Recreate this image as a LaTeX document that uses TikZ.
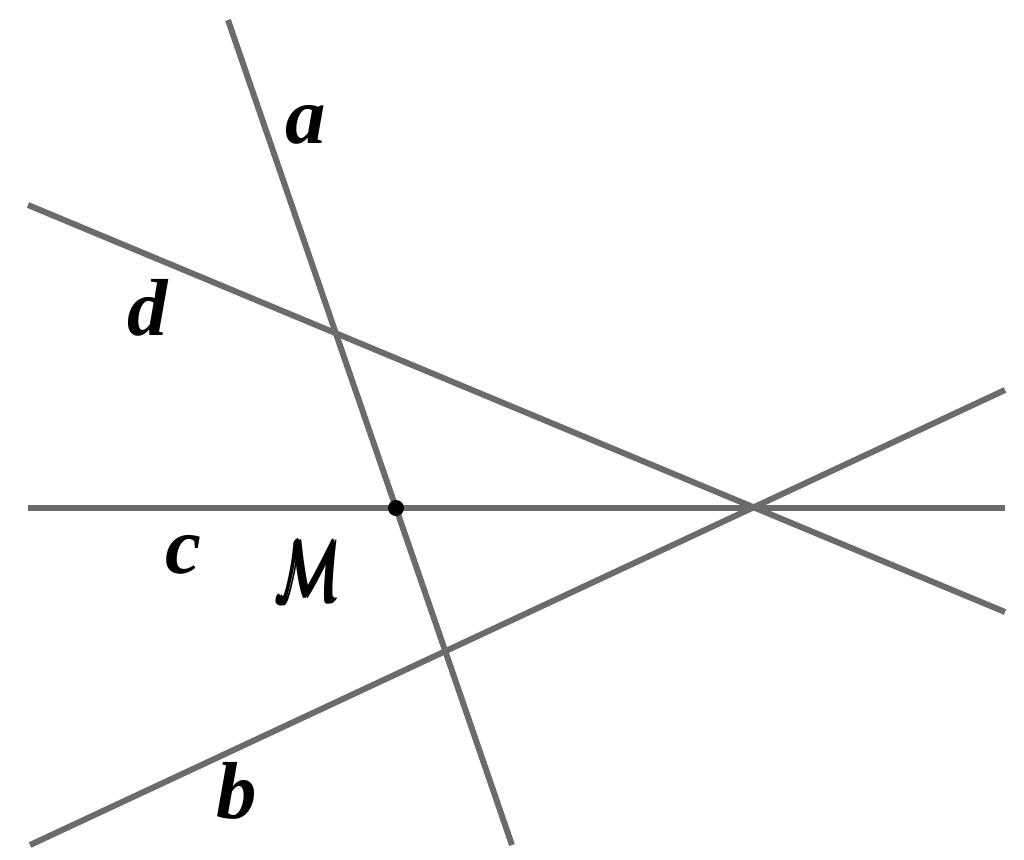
\RequirePackage{fix-cm}
\documentclass[tikz,border=0pt]{standalone}
\usepackage{amsmath}
\usepackage{fontspec}
\setmainfont{Liberation Serif}
\tikzset{
  line/.style={draw=black!58,line width=3.4pt},
  lbl/.style={font=\fontsize{46}{46}\selectfont\bfseries\itshape,inner sep=0pt}
}
% overprinted calligraphic M, to make it heavier
\newcommand{\heavyM}{%
  \rlap{$\mathcal{M}$}\rlap{\kern1.3pt$\mathcal{M}$}\rlap{\kern2.6pt$\mathcal{M}$}%
  \rlap{\kern1.3pt\raisebox{0.9pt}{$\mathcal{M}$}}\rlap{\kern3.9pt$\mathcal{M}$}%
  \kern3.9pt\phantom{$\mathcal{M}$}}
\begin{document}
\begin{tikzpicture}[x=0.02cm,y=-0.02cm]
\useasboundingbox (0,0) rectangle (1024,859);

% End points of the four lines
\coordinate (A1) at (228,20);
\coordinate (A2) at (512,845);
\coordinate (D1) at (28,205);
\coordinate (D2) at (1005,612);
\coordinate (C1) at (28,508);
\coordinate (C2) at (1005,508);
\coordinate (B1) at (30,845);
\coordinate (B2) at (1005,390);

% Draw the lines
\draw[line] (A1) -- (A2);
\draw[line] (D1) -- (D2);
\draw[line] (C1) -- (C2);
\draw[line] (B1) -- (B2);

% Point M on line c
\coordinate (M) at (intersection of A1--A2 and C1--C2);
\fill (M) circle (0.16cm);

% Labels
\node[lbl] (la) at (306,125) {a};
\node[lbl] (ld) at (148,308) {d};
\node[lbl] (lc) at (183,555) {c};
\node[lbl] (lb) at (237,791) {b};
\node[inner sep=0pt,xscale=0.6,font=\fontsize{50}{50}\selectfont] (lM) at (308,571) {\heavyM};
\end{tikzpicture}
\end{document}
